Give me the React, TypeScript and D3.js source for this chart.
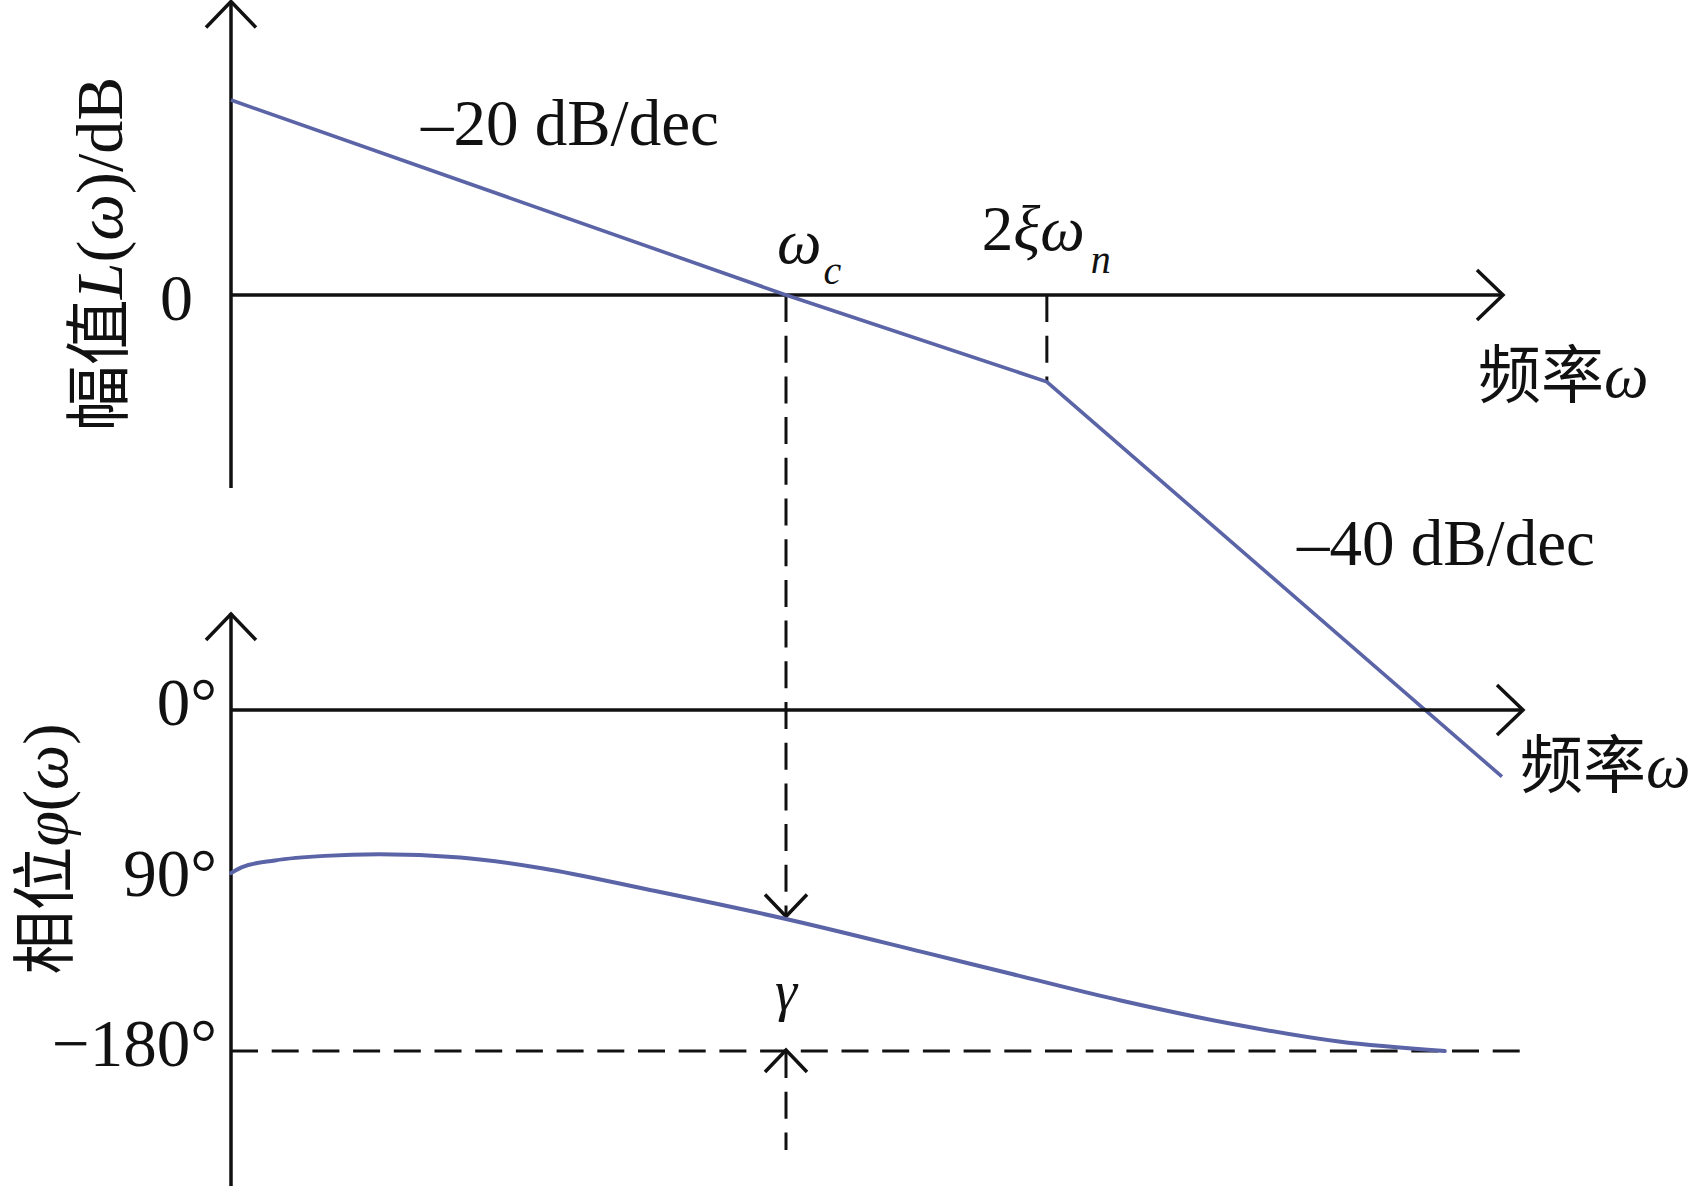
import React from "react";
import * as d3 from "d3";

// ---- data ----
// x in decades from the plot origin (ωc = 1 decade)
const magDecades = [0, 1, 1.47, 2.29];
const magDb = [20, 0, -8.9, -49.4];

const phaseDecades = [0, 0.02, 0.079, 0.169, 0.267, 0.413, 0.56, 0.755, 1.0, 1.247, 1.409, 1.605, 1.8, 1.996, 2.187];
const phaseDeg = [-86.1, -82.9, -79.4, -77.0, -76.2, -77.8, -83.5, -95.0, -110.3, -127.8, -139.5, -153.5, -165.5, -175.0, -180.0];

const magTickValues = [0];
const magTickLabels = ["0"];
const phaseTickValues = [0, -90, -180];
const phaseTickLabels = ["0°", "90°", "−180°"];

const crossoverDecade = 1; // ωc
const breakDecade = 1.47; // 2ξωn
const phaseAtCrossover = -109;
const phaseLimit = -180;

const slopeLabels = ["–20 dB/dec", "–40 dB/dec"];
const axisTitleMag = ["幅值", "L", "(", "ω", ")/dB"];
const axisTitlePhase = ["相位", "φ", "(", "ω", ")"];
const freqLabel = ["频率", "ω"];

// ---- layout ----
const W = 1702;
const H = 1186;
const BLACK = "#111";
const BLUE = "#5a64a6";
const SERIF = "'Liberation Serif', 'Times New Roman', serif";
const CJK = "'Noto Sans CJK SC', sans-serif";
const DASH = "27 13.7";

const x = d3.scaleLinear().domain([0, 1]).range([231, 786]);
const yMag = d3.scaleLinear().domain([0, 20]).range([295, 100]);
const yPh = d3.scaleLinear().domain([0, -180]).range([710, 1051]);

function chevron(tx: number, ty: number, dir: "up" | "down" | "right", a: number, b: number) {
  if (dir === "up") return `M${tx - a},${ty + b}L${tx},${ty}L${tx + a},${ty + b}`;
  if (dir === "down") return `M${tx - a},${ty - b}L${tx},${ty}L${tx + a},${ty - b}`;
  return `M${tx - b},${ty - a}L${tx},${ty}L${tx - b},${ty + a}`;
}

export default function App() {
  const ox = x(0);
  const magLine = d3
    .line<number>()
    .x((_, i) => x(magDecades[i]))
    .y((d) => yMag(d));
  const phaseLine = d3
    .line<number>()
    .x((_, i) => x(phaseDecades[i]))
    .y((d) => yPh(d))
    .curve(d3.curveMonotoneX);

  const xc = x(crossoverDecade);
  const xb = x(breakDecade);
  const magAtBreak = magDb[magDecades.indexOf(breakDecade)];

  const upperAxisEnd = 1503;
  const lowerAxisEnd = 1523;
  const limitLineEnd = 1525;

  return (
    <svg
      width={W}
      height={H}
      viewBox={`0 0 ${W} ${H}`}
      style={{ position: "absolute", left: 0, top: 0, background: "#fff" }}
    >
      <rect width={W} height={H} fill="#fff" />

      {/* ---------- magnitude plot ---------- */}
      <line x1={ox} y1={1} x2={ox} y2={488} stroke={BLACK} strokeWidth={3.5} />
      <path d={chevron(ox, 1.5, "up", 25, 26)} fill="none" stroke={BLACK} strokeWidth={3.5} />
      <line x1={ox} y1={yMag(0)} x2={upperAxisEnd} y2={yMag(0)} stroke={BLACK} strokeWidth={3.5} />
      <path d={chevron(upperAxisEnd, yMag(0), "right", 25, 26)} fill="none" stroke={BLACK} strokeWidth={3.5} />

      {/* dashed drop lines */}
      <line x1={xc} y1={yMag(0)} x2={xc} y2={yPh(phaseAtCrossover)} stroke={BLACK} strokeWidth={3} strokeDasharray={DASH} />
      <path d={chevron(xc, yPh(phaseAtCrossover), "down", 21, 22)} fill="none" stroke={BLACK} strokeWidth={3.5} />
      <line x1={xb} y1={yMag(0)} x2={xb} y2={yMag(magAtBreak)} stroke={BLACK} strokeWidth={3} strokeDasharray={DASH} />

      <path d={magLine(magDb) || ""} fill="none" stroke={BLUE} strokeWidth={3.6} />

      {magTickValues.map((v, i) => (
        <text key={i} x={ox - 38} y={yMag(v) + 25} textAnchor="end" fontFamily={SERIF} fontSize={66} fill={BLACK}>
          {magTickLabels[i]}
        </text>
      ))}

      <text x={421} y={145} fontFamily={SERIF} fontSize={65} fill={BLACK}>{slopeLabels[0]}</text>
      <text x={1297} y={565} fontFamily={SERIF} fontSize={65} fill={BLACK}>{slopeLabels[1]}</text>

      <text x={xc - 9} y={263} fontFamily={SERIF} fontSize={63} fill={BLACK}>
        <tspan fontStyle="italic">ω</tspan>
        <tspan fontStyle="italic" fontSize={40} dx={2} dy={21}>c</tspan>
      </text>
      <text x={xb - 65} y={250} fontFamily={SERIF} fontSize={63} fill={BLACK}>
        <tspan>2</tspan>
        <tspan fontStyle="italic">ξω</tspan>
        <tspan fontStyle="italic" fontSize={40} dx={6} dy={23}>n</tspan>
      </text>

      <text x={1478} y={397} fontSize={63} fill={BLACK}>
        <tspan fontFamily={CJK}>{freqLabel[0]}</tspan>
        <tspan fontFamily={SERIF} fontStyle="italic">{freqLabel[1]}</tspan>
      </text>

      <g transform="translate(122,254) rotate(-90)">
        <text x={0} y={0} textAnchor="middle" fontSize={66} fill={BLACK}>
          <tspan fontFamily={CJK}>{axisTitleMag[0]}</tspan>
          <tspan fontFamily={SERIF} fontStyle="italic">{axisTitleMag[1]}</tspan>
          <tspan fontFamily={SERIF}>{axisTitleMag[2]}</tspan>
          <tspan fontFamily={SERIF} fontStyle="italic">{axisTitleMag[3]}</tspan>
          <tspan fontFamily={SERIF}>{axisTitleMag[4]}</tspan>
        </text>
      </g>

      {/* ---------- phase plot ---------- */}
      <line x1={ox} y1={613} x2={ox} y2={H} stroke={BLACK} strokeWidth={3.5} />
      <path d={chevron(ox, 614, "up", 25, 26)} fill="none" stroke={BLACK} strokeWidth={3.5} />
      <line x1={ox} y1={yPh(0)} x2={lowerAxisEnd} y2={yPh(0)} stroke={BLACK} strokeWidth={3.5} />
      <path d={chevron(lowerAxisEnd, yPh(0), "right", 25, 26)} fill="none" stroke={BLACK} strokeWidth={3.5} />

      <line x1={ox} y1={yPh(phaseLimit)} x2={limitLineEnd} y2={yPh(phaseLimit)} stroke={BLACK} strokeWidth={3} strokeDasharray={DASH} />
      <line x1={xc} y1={yPh(phaseLimit)} x2={xc} y2={1150} stroke={BLACK} strokeWidth={3} strokeDasharray={DASH} />
      <path d={chevron(xc, yPh(phaseLimit) - 1, "up", 21, 22)} fill="none" stroke={BLACK} strokeWidth={3.5} />

      <path d={phaseLine(phaseDeg) || ""} fill="none" stroke={BLUE} strokeWidth={4} strokeLinecap="round" />

      {phaseTickValues.map((v, i) => (
        <text key={i} x={ox - 14} y={yPh(v) + 15} textAnchor="end" fontFamily={SERIF} fontSize={67} fill={BLACK}>
          {phaseTickLabels[i]}
        </text>
      ))}

      <text x={xc} y={1010} textAnchor="middle" fontFamily={SERIF} fontStyle="italic" fontSize={56} fill={BLACK}>γ</text>

      <text x={1520} y={787} fontSize={63} fill={BLACK}>
        <tspan fontFamily={CJK}>{freqLabel[0]}</tspan>
        <tspan fontFamily={SERIF} fontStyle="italic">{freqLabel[1]}</tspan>
      </text>

      <g transform="translate(67,849) rotate(-90)">
        <text x={0} y={0} textAnchor="middle" fontSize={64} fill={BLACK}>
          <tspan fontFamily={CJK}>{axisTitlePhase[0]}</tspan>
          <tspan fontFamily={SERIF} fontStyle="italic">{axisTitlePhase[1]}</tspan>
          <tspan fontFamily={SERIF}>{axisTitlePhase[2]}</tspan>
          <tspan fontFamily={SERIF} fontStyle="italic">{axisTitlePhase[3]}</tspan>
          <tspan fontFamily={SERIF}>{axisTitlePhase[4]}</tspan>
        </text>
      </g>
    </svg>
  );
}
